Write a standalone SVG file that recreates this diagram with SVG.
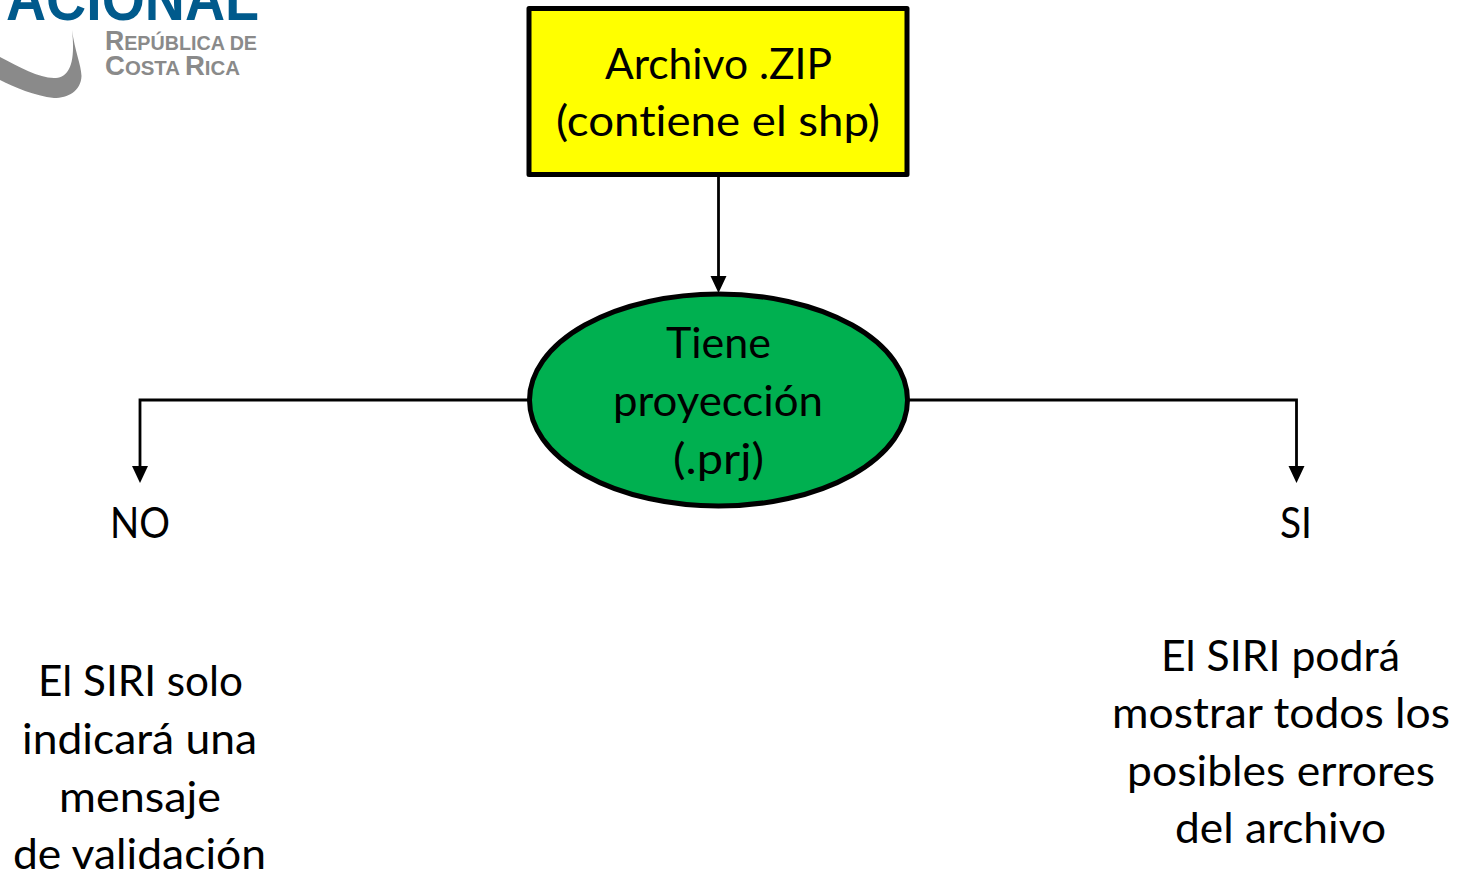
<svg xmlns="http://www.w3.org/2000/svg" width="1458" height="875" viewBox="0 0 1458 875">
<style>
text{font-family:"Lato","Carlito","Liberation Sans",sans-serif;font-size:42.5px;fill:#000;text-anchor:middle;font-variant-ligatures:none}
.logo{font-family:"Liberation Sans",sans-serif;font-weight:700;text-anchor:start;fill:#8a8a8a;font-size:27px}
.logo tspan{font-size:20px}
.logo tspan.cap{font-size:27px}
.conn{fill:none;stroke:#000;stroke-width:2.8}
.shape{stroke:#000;stroke-width:5;stroke-linejoin:round}
</style>
<defs>
<marker id="arrow" markerUnits="userSpaceOnUse" markerWidth="18" markerHeight="18" refX="10" refY="9" orient="auto"><path d="M0 1L17 9L0 17Z" fill="#000"/></marker>
</defs>
<g id="logo">
<text x="6" y="20" textLength="253" lengthAdjust="spacingAndGlyphs" style="font-family:'Liberation Sans',sans-serif;font-weight:700;font-size:62px;fill:#005a8c;text-anchor:start">ACIONAL</text>
<path d="M72 30C75 52 81 64 81.500 76C81 91 68 98 54 98C34 96 12 86 -2 79L-2 56C18 66 38 78 54 78C68 78 76 66 72 30Z" fill="#8a8a8a"/>
<text class="logo" x="105" y="50" textLength="152" lengthAdjust="spacingAndGlyphs">R<tspan>EPÚBLICA DE</tspan></text>
<text class="logo" x="105" y="75" textLength="135" lengthAdjust="spacingAndGlyphs">C<tspan>OSTA </tspan><tspan class="cap">R</tspan><tspan>ICA</tspan></text>
</g>
<g id="connectors">
<path class="conn" d="M718.500 175V286" marker-end="url(#arrow)"/>
<path class="conn" d="M529 400H140V476" marker-end="url(#arrow)"/>
<path class="conn" d="M908 400H1296.500V476" marker-end="url(#arrow)"/>
</g>
<g id="zip">
<rect class="shape" x="529" y="8.500" width="378" height="166" fill="#ff0"/>
<text x="718.500" y="79" textLength="227" lengthAdjust="spacingAndGlyphs">Archivo .ZIP</text>
<text x="718" y="136" textLength="324" lengthAdjust="spacingAndGlyphs">(contiene el shp)</text>
</g>
<g id="proyeccion">
<ellipse class="shape" cx="718.500" cy="400" rx="189" ry="106" fill="#00b050"/>
<text x="718.500" y="358" textLength="105" lengthAdjust="spacingAndGlyphs">Tiene</text>
<text x="718" y="416" textLength="210" lengthAdjust="spacingAndGlyphs">proyección</text>
<text x="718.500" y="474" textLength="91" lengthAdjust="spacingAndGlyphs">(.prj)</text>
</g>
<g id="no"><text x="140" y="538" textLength="60" lengthAdjust="spacingAndGlyphs">NO</text></g>
<g id="si"><text x="1296" y="538" textLength="32" lengthAdjust="spacingAndGlyphs">SI</text></g>
<g id="texto-no">
<text x="140.500" y="696" textLength="205" lengthAdjust="spacingAndGlyphs">El SIRI solo</text>
<text x="139.500" y="754" textLength="235" lengthAdjust="spacingAndGlyphs">indicará una</text>
<text x="140" y="812" textLength="162" lengthAdjust="spacingAndGlyphs">mensaje</text>
<text x="139.500" y="869" textLength="253" lengthAdjust="spacingAndGlyphs">de validación</text>
</g>
<g id="texto-si">
<text x="1280.500" y="671" textLength="239" lengthAdjust="spacingAndGlyphs">El SIRI podrá</text>
<text x="1281" y="728" textLength="338" lengthAdjust="spacingAndGlyphs">mostrar todos los</text>
<text x="1281" y="786" textLength="308" lengthAdjust="spacingAndGlyphs">posibles errores</text>
<text x="1280.500" y="843" textLength="211" lengthAdjust="spacingAndGlyphs">del archivo</text>
</g>
</svg>
